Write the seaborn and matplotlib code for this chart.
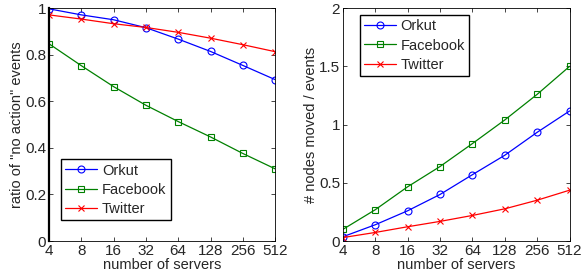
import pandas as pd
import seaborn as sns
import matplotlib.pyplot as plt

# Data
servers = [4, 8, 16, 32, 64, 128, 256, 512]
networks = ['Orkut', 'Facebook', 'Twitter']
colors = {'Orkut': (0, 0, 1), 'Facebook': (0, 0.5, 0), 'Twitter': (1, 0, 0)}
markers = {'Orkut': 'o', 'Facebook': 's', 'Twitter': 'x'}
msizes = {'Orkut': 5, 'Facebook': 4.5, 'Twitter': 4}

# left: ratio of "no action" events
noaction_orkut = [0.997, 0.971, 0.950, 0.916, 0.867, 0.814, 0.754, 0.693]
noaction_facebook = [0.847, 0.753, 0.663, 0.583, 0.513, 0.447, 0.376, 0.310]
noaction_twitter = [0.971, 0.953, 0.933, 0.917, 0.896, 0.871, 0.843, 0.813]

# right: # nodes moved / events
moved_orkut = [0.037, 0.140, 0.260, 0.400, 0.570, 0.737, 0.934, 1.117]
moved_facebook = [0.100, 0.269, 0.466, 0.640, 0.837, 1.040, 1.260, 1.500]
moved_twitter = [0.030, 0.074, 0.123, 0.169, 0.220, 0.277, 0.351, 0.437]

left = pd.DataFrame({'servers': servers, 'Orkut': noaction_orkut,
                     'Facebook': noaction_facebook, 'Twitter': noaction_twitter})
right = pd.DataFrame({'servers': servers, 'Orkut': moved_orkut,
                      'Facebook': moved_facebook, 'Twitter': moved_twitter})

sns.set_style('ticks')
plt.rcParams['font.family'] = ['Liberation Sans', 'DejaVu Sans']
plt.rcParams['xtick.direction'] = 'in'
plt.rcParams['ytick.direction'] = 'in'
plt.rcParams['font.size'] = 10

fig = plt.figure(figsize=(5.83, 2.80), dpi=100)
ax1 = fig.add_axes([0.084, 0.139, 0.388, 0.832])
ax2 = fig.add_axes([0.588, 0.139, 0.389, 0.832])


def draw(ax, df):
    for net in networks:
        sns.lineplot(data=df, x='servers', y=net, ax=ax, label=net,
                     color=colors[net], marker=markers[net], markersize=msizes[net],
                     mfc='none', mec=colors[net], mew=0.8, linewidth=0.9)
    ax.set_xscale('log', base=2)
    ax.set_xlim(4, 512)
    ax.set_xticks(servers)
    ax.set_xticklabels([str(s) for s in servers])
    ax.minorticks_off()
    ax.set_xlabel('number of servers', fontsize=10.5, labelpad=0)
    ax.tick_params(length=3, width=0.6, pad=2, labelsize=11, top=True, right=True)
    for sp in ax.spines.values():
        sp.set_visible(True)
        sp.set_linewidth(0.6)
        sp.set_color('black')


def legend(ax, **kw):
    leg = ax.legend(fancybox=False, edgecolor='black', framealpha=1,
                    handlelength=2.2, numpoints=1, borderaxespad=0,
                    labelspacing=0.35, borderpad=0.3, handletextpad=0.3,
                    fontsize=10.5, **kw)
    leg.get_frame().set_linewidth(1.0)


draw(ax1, left)
ax1.spines['left'].set_linewidth(1.6)
ax1.set_ylim(0, 1)
ax1.set_yticks([0, 0.2, 0.4, 0.6, 0.8, 1])
ax1.set_yticklabels(['0', '0.2', '0.4', '0.6', '0.8', '1'])
ax1.set_ylabel('ratio of "no action" events', fontsize=10.5, labelpad=1)
legend(ax1, loc='lower left', bbox_to_anchor=(0.053, 0.09))

draw(ax2, right)
ax2.set_ylim(0, 2)
ax2.set_yticks([0, 0.5, 1, 1.5, 2])
ax2.set_yticklabels(['0', '0.5', '1', '1.5', '2'])
ax2.set_ylabel('# nodes moved / events', fontsize=10.5, labelpad=1)
legend(ax2, loc='upper left', bbox_to_anchor=(0.075, 0.97))

plt.savefig('out.png', dpi=100)
plt.close()
